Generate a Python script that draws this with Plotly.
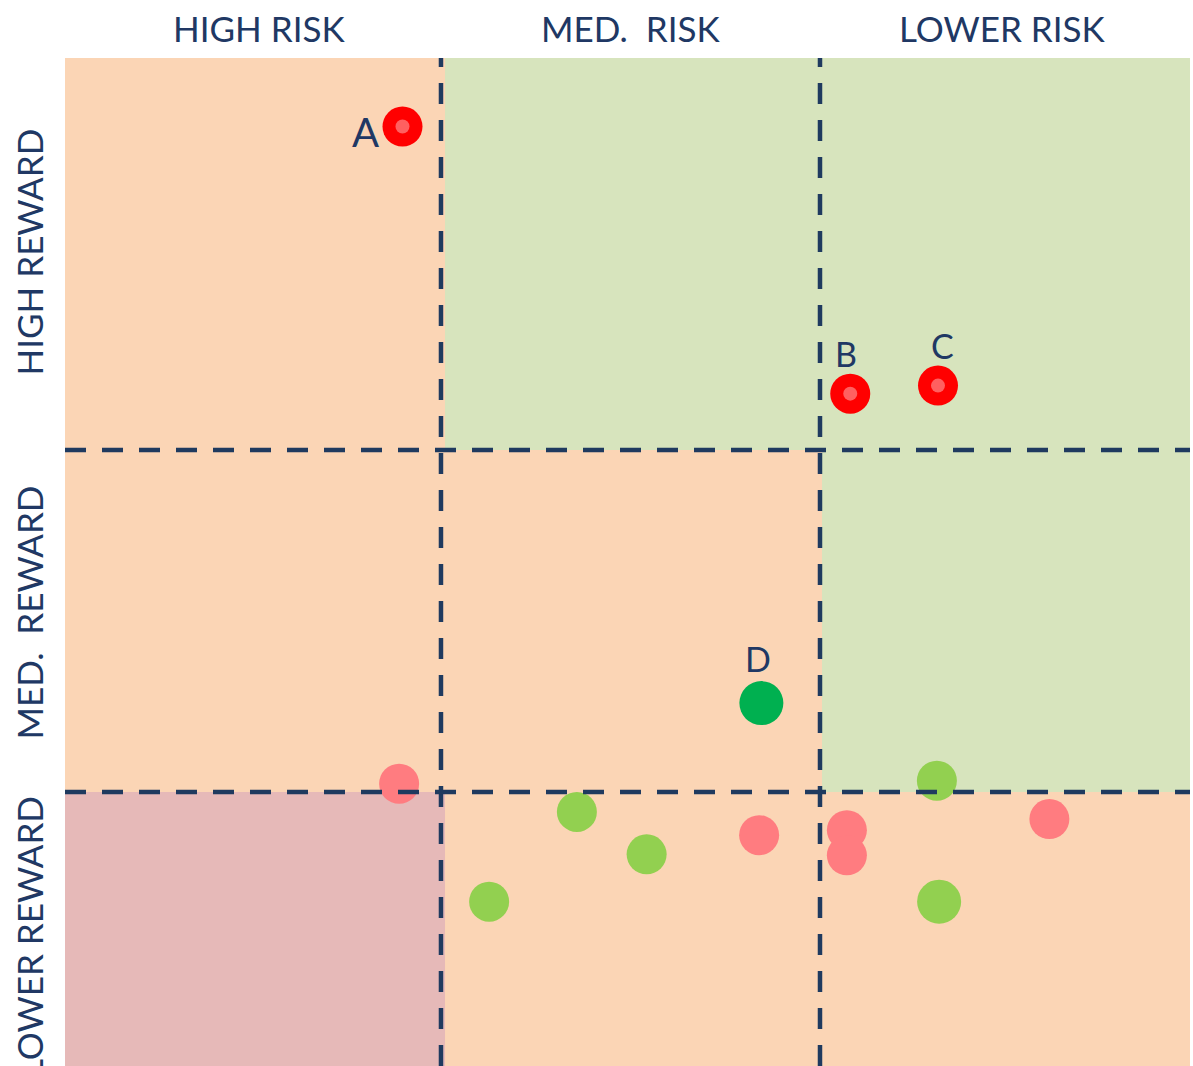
import plotly.graph_objects as go

# Axis scale: 0..10 on both axes
# Quadrant divider positions (dashed lines)
x_dividers = [3.342, 6.711]
y_dividers = [6.111, 2.718]

# Background zone edges
bg_x_edge = 3.378
bg_x_edge_mid = 6.729
bg_y_top = 6.111
bg_y_low = 2.718

# Highlighted labelled points
key_labels = ["A", "B", "C"]
key_x = [3.00, 6.98, 7.76]
key_y = [9.32, 6.67, 6.75]
key_label_x = [2.67, 6.94, 7.80]
key_label_y = [9.27, 7.07, 7.15]

d_label = "D"
d_x = [6.19]
d_y = [3.60]
d_label_x = 6.16
d_label_y = 4.04

# Light red points
lr_x = [2.97, 6.17, 6.95, 6.95, 8.75]
lr_y = [2.80, 2.29, 2.34, 2.09, 2.45]

# Light green points
lg_x = [4.55, 5.17, 3.77, 7.75]
lg_y = [2.52, 2.10, 1.63, 2.83]
lg_big_x = [7.77]
lg_big_y = [1.63]

col_labels = ["HIGH RISK", "MED.  RISK", "LOWER RISK"]
col_label_x = [0.172, 0.503, 0.833]
row_labels = ["HIGH REWARD", "MED.  REWARD", "LOWER REWARD"]
row_label_y = [0.807, 0.450, 0.128]

PEACH = "#FBD5B5"
GREEN_BG = "#D7E4BD"
ROSE = "#E6B9B8"
NAVY = "#1F3A5F"
TXT = "#203864"

fig = go.Figure()

shapes = []
# backgrounds
def rect(x0, x1, y0, y1, color):
    shapes.append(dict(type="rect", xref="x", yref="y", x0=x0, x1=x1, y0=y0, y1=y1,
                       fillcolor=color, line=dict(width=0), layer="below"))

rect(0, 10, 0, 10, PEACH)
rect(bg_x_edge, 10, bg_y_top, 10, GREEN_BG)
rect(bg_x_edge_mid, 10, bg_y_low, bg_y_top, GREEN_BG)
rect(0, bg_x_edge, 0, bg_y_low, ROSE)

# markers
fig.add_trace(go.Scatter(x=lr_x, y=lr_y, mode="markers",
                         marker=dict(size=40, color="#FF7C80", line=dict(width=0)),
                         hoverinfo="skip", showlegend=False))
fig.add_trace(go.Scatter(x=lg_x, y=lg_y, mode="markers",
                         marker=dict(size=40, color="#92D050", line=dict(width=0)),
                         hoverinfo="skip", showlegend=False))
fig.add_trace(go.Scatter(x=lg_big_x, y=lg_big_y, mode="markers",
                         marker=dict(size=44, color="#92D050", line=dict(width=0)),
                         hoverinfo="skip", showlegend=False))
fig.add_trace(go.Scatter(x=d_x, y=d_y, mode="markers",
                         marker=dict(size=44, color="#00B050", line=dict(width=0)),
                         hoverinfo="skip", showlegend=False))
fig.add_trace(go.Scatter(x=key_x, y=key_y, mode="markers",
                         marker=dict(size=40, color="#FF0000", line=dict(width=0)),
                         hoverinfo="skip", showlegend=False))
fig.add_trace(go.Scatter(x=key_x, y=key_y, mode="markers",
                         marker=dict(size=14, color="#FF6060", line=dict(width=0)),
                         hoverinfo="skip", showlegend=False))

# dashed divider lines (drawn above markers)
for xv in x_dividers:
    shapes.append(dict(type="line", xref="x", yref="y", x0=xv, x1=xv, y0=0, y1=10,
                       line=dict(color=NAVY, width=4.5, dash="21px,16px"), layer="above"))
for yv in y_dividers:
    shapes.append(dict(type="line", xref="x", yref="y", x0=0, x1=10, y0=yv, y1=yv,
                       line=dict(color=NAVY, width=4.5, dash="21px,16px"), layer="above"))

annotations = []
FONT = "Lato"
for i, lab in enumerate(key_labels):
    annotations.append(dict(x=key_label_x[i], y=key_label_y[i], xref="x", yref="y",
                            text=lab, showarrow=False, xanchor="center", yanchor="middle",
                            font=dict(family=FONT, size=40 if lab == "A" else 34, color=TXT)))
annotations.append(dict(x=d_label_x, y=d_label_y, xref="x", yref="y", text=d_label,
                        showarrow=False, xanchor="center", yanchor="middle",
                        font=dict(family=FONT, size=34, color=TXT)))
for i, lab in enumerate(col_labels):
    annotations.append(dict(x=col_label_x[i], y=1.0, xref="paper", yref="paper",
                            yshift=30, text=lab, showarrow=False,
                            xanchor="center", yanchor="middle",
                            font=dict(family=FONT, size=35, color=TXT)))
for i, lab in enumerate(row_labels):
    annotations.append(dict(x=0, y=row_label_y[i], xref="paper", yref="paper",
                            xshift=-36, text=lab, showarrow=False, textangle=-90,
                            xanchor="center", yanchor="middle",
                            font=dict(family=FONT, size=35, color=TXT)))

fig.update_layout(
    width=1193, height=1066,
    margin=dict(l=65, r=3, t=58, b=0),
    paper_bgcolor="white", plot_bgcolor="white",
    shapes=shapes, annotations=annotations,
    xaxis=dict(range=[0, 10], visible=False, showgrid=False, zeroline=False, fixedrange=True),
    yaxis=dict(range=[0, 10], visible=False, showgrid=False, zeroline=False, fixedrange=True),
    showlegend=False,
)

fig.write_html("out.html", config={"displayModeBar": False})
